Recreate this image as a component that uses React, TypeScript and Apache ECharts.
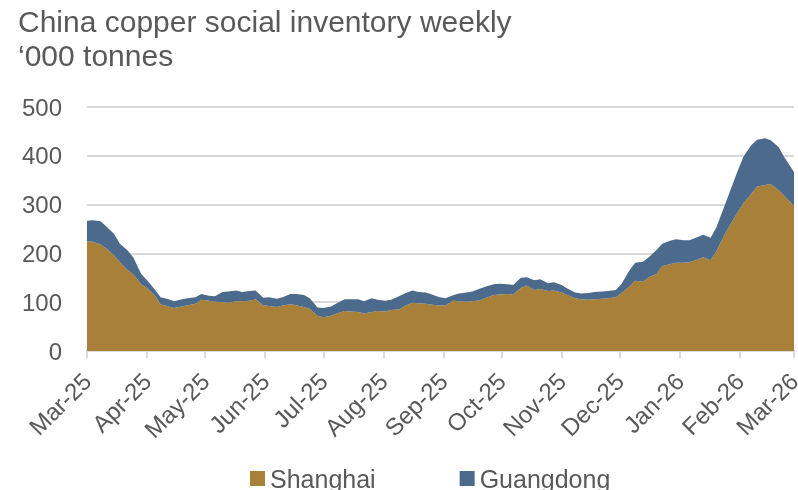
import React, { useEffect, useRef } from "react";
import * as echarts from "echarts";

const TITLE = "China copper social inventory weekly";
const SUBTITLE = "‘000 tonnes";
const MONTHS = ["Jan", "Feb", "Mar", "Apr", "May", "Jun", "Jul", "Aug", "Sep", "Oct", "Nov", "Dec"];
const SERIES_NAMES = ["Shanghai", "Guangdong"];

// twice-weekly observations, 1 Mar 2025 .. 1 Mar 2026
const shanghai = [
  225, 224, 218, 210, 196, 182, 166, 157, 137, 129,
  114, 96, 91, 88, 91, 94, 97, 105, 103, 101,
  100, 99, 102, 102, 103, 106, 94, 92, 90, 93,
  96, 94, 90, 86, 72, 69, 72, 77, 82, 81,
  80, 77, 80, 82, 81, 84, 85, 92, 99, 98,
  97, 95, 93, 93, 103, 102, 101, 102, 104, 109,
  115, 116, 117, 116, 129, 134, 125, 127, 123, 124,
  120, 115, 108, 106, 105, 106, 107, 108, 110, 119,
  132, 144, 142, 151, 158, 174, 178, 181, 181, 182,
  187, 192, 186, 205, 237, 258, 285, 304, 322, 337,
  340, 342, 330, 318, 297,
];
const guangdong = [
  42, 44, 48, 45, 44, 38, 40, 34, 21, 16,
  12, 14, 15, 14, 15, 14, 13, 12, 10, 11,
  21, 23, 22, 19, 20, 18, 15, 18, 17, 17,
  21, 23, 25, 22, 17, 19, 19, 21, 24, 25,
  26, 25, 28, 23, 22, 21, 27, 26, 25, 23,
  23, 21, 17, 15, 11, 16, 19, 20, 24, 23,
  22, 22, 20, 19, 21, 17, 20, 20, 16, 17,
  15, 13, 12, 12, 14, 15, 15, 15, 15, 19,
  33, 37, 41, 41, 49, 46, 48, 48, 46, 45,
  46, 46, 46, 49, 59, 70, 85, 95, 100, 96,
  96, 90, 88, 79, 70,
];

const Y_MIN = 0;
const Y_MAX = 500;
const Y_STEP = 100;

function buildDates(n: number): number[] {
  const out: number[] = [];
  for (let i = 0; i < n; i++) {
    const day = i === n - 1 ? 365 : Math.floor(i * 3.5);
    out.push(new Date(2025, 2, 1 + day).getTime());
  }
  return out;
}

export default function App() {
  const ref = useRef<HTMLDivElement>(null);
  useEffect(() => {
    if (!ref.current) return;
    const chart = echarts.init(ref.current, undefined, { renderer: "svg" });
    const dates = buildDates(shanghai.length);
    const font = "'Liberation Sans', Arial, sans-serif";
    const grey = "#595959";
    const gridGrey = "#d9d9d9";
    chart.setOption({
      animation: false,
      textStyle: { fontFamily: font },
      title: {
        text: TITLE + "\n" + SUBTITLE,
        left: 18,
        top: 4,
        padding: 0,
        textStyle: { fontFamily: font, fontSize: 30, lineHeight: 34, fontWeight: "normal", color: grey },
      },
      legend: {
        data: SERIES_NAMES,
        left: 250,
        top: 466,
        padding: 0,
        icon: "rect",
        itemWidth: 15,
        itemHeight: 15,
        itemGap: 84,
        textStyle: { fontFamily: font, fontSize: 25, color: grey },
      },
      grid: { left: 87, right: 4, top: 107, bottom: 139, containLabel: false, outerBoundsMode: "none" },
      xAxis: {
        type: "time",
        min: new Date(2025, 2, 1).getTime(),
        max: new Date(2026, 2, 1).getTime(),
        splitNumber: 12,
        minInterval: 28 * 86400000,
        maxInterval: 31 * 86400000,
        axisLine: { show: true, lineStyle: { color: gridGrey, width: 2 } },
        axisTick: { show: true, length: 7, lineStyle: { color: gridGrey, width: 2 } },
        splitLine: { show: false },
        axisLabel: {
          rotate: 45,
          margin: 26,
          fontSize: 24,
          color: grey,
          fontFamily: font,
          showMinLabel: true,
          showMaxLabel: true,
          formatter: (v: number) => {
            const d = new Date(v);
            return MONTHS[d.getMonth()] + "-" + String(d.getFullYear()).slice(2);
          },
        },
      },
      yAxis: {
        type: "value",
        min: Y_MIN,
        max: Y_MAX,
        interval: Y_STEP,
        axisLine: { show: false },
        axisTick: { show: false },
        splitLine: { show: true, lineStyle: { color: gridGrey, width: 2 } },
        axisLabel: { fontSize: 24, color: grey, margin: 25, fontFamily: font },
      },
      series: [
        {
          name: SERIES_NAMES[0],
          type: "line",
          stack: "total",
          symbol: "none",
          lineStyle: { width: 0 },
          areaStyle: { color: "#a8803a", opacity: 1 },
          itemStyle: { color: "#a8803a" },
          data: dates.map((d, i) => [d, shanghai[i]]),
        },
        {
          name: SERIES_NAMES[1],
          type: "line",
          stack: "total",
          symbol: "none",
          lineStyle: { width: 0 },
          areaStyle: { color: "#4c6a8b", opacity: 1 },
          itemStyle: { color: "#4c6a8b" },
          data: dates.map((d, i) => [d, guangdong[i]]),
        },
      ],
    });
    return () => chart.dispose();
  }, []);
  return (
    <div
      ref={ref}
      style={{ position: "fixed", left: 0, top: 0, width: 798, height: 490 }}
    />
  );
}
